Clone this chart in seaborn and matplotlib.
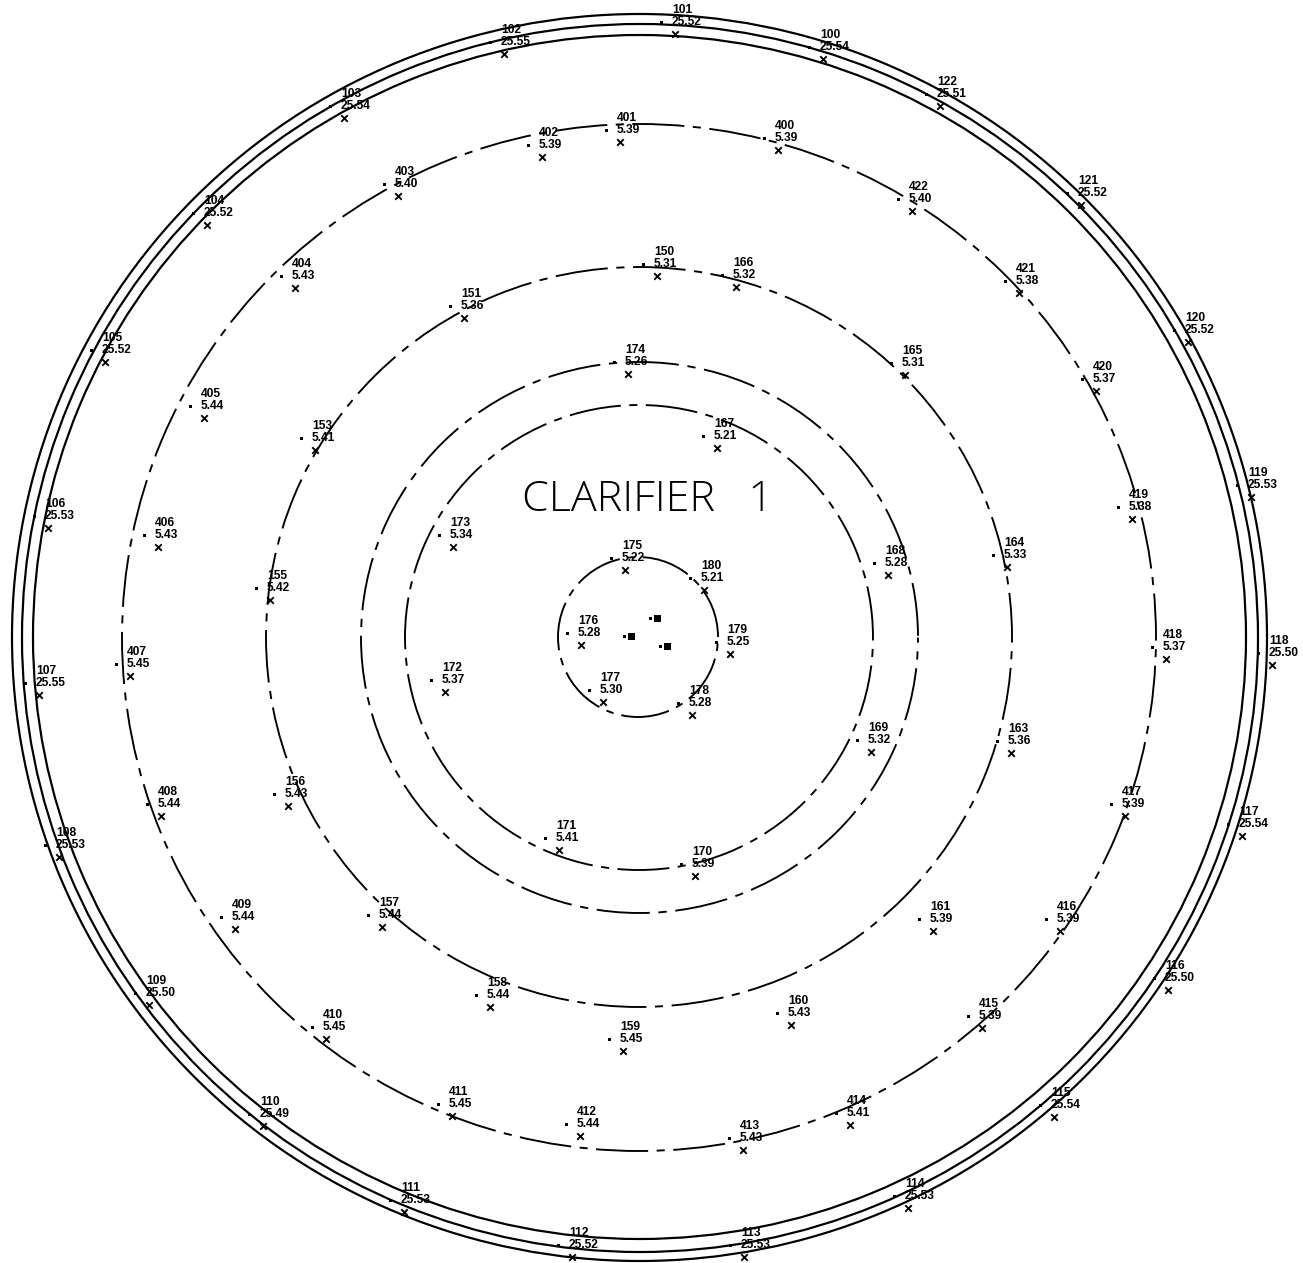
#!/usr/bin/env python3

import numpy as np
import matplotlib
matplotlib.use('Agg')
import matplotlib.pyplot as plt
from matplotlib.patches import Arc
import seaborn as sns
import pandas as pd

# survey shots, positions are pixels of the X mark on the sheet
ids = [100, 101, 102, 103, 104, 105, 106, 107, 108, 109, 110, 111, 112, 113, 114, 115, 116, 117, 118, 119, 120, 121, 122,
       400, 401, 402, 403, 404, 405, 406, 407, 408, 409, 410, 411, 412, 413, 414, 415, 416, 417, 418, 419, 420, 421, 422,
       150, 151, 153, 155, 156, 157, 158, 159, 160, 161, 163, 164, 165, 166,
       167, 168, 169, 170, 171, 172, 173, 174,
       175, 176, 177, 178, 179, 180]
values = [25.54, 25.52, 25.55, 25.54, 25.52, 25.52, 25.53, 25.55, 25.53, 25.50, 25.49, 25.53, 25.52, 25.53, 25.53, 25.54, 25.50, 25.54, 25.50, 25.53, 25.52, 25.52, 25.51,
          5.39, 5.39, 5.39, 5.40, 5.43, 5.44, 5.43, 5.45, 5.44, 5.44, 5.45, 5.45, 5.44, 5.43, 5.41, 5.39, 5.39, 5.39, 5.37, 5.38, 5.37, 5.38, 5.40,
          5.31, 5.36, 5.41, 5.42, 5.43, 5.44, 5.44, 5.45, 5.43, 5.39, 5.36, 5.33, 5.31, 5.32,
          5.21, 5.28, 5.32, 5.39, 5.41, 5.37, 5.34, 5.26,
          5.22, 5.28, 5.30, 5.28, 5.25, 5.21]
mark_x = [823, 675, 504, 344, 207, 105, 48, 39, 59, 149, 263, 404, 572, 744, 908, 1054, 1168, 1242, 1272, 1251, 1188, 1081, 940,
          778, 620, 542, 398, 295, 204, 158, 130, 161, 235, 326, 452, 580, 743, 850, 982, 1060, 1125, 1166, 1132, 1096, 1019, 912,
          657, 464, 315, 270, 288, 382, 490, 623, 791, 933, 1011, 1007, 905, 736,
          717, 888, 871, 695, 559, 445, 453, 628,
          625, 581, 603, 692, 730, 704]
mark_y = [59, 34, 54, 118, 225, 362, 528, 695, 857, 1005, 1126, 1212, 1257, 1257, 1208, 1117, 990, 836, 665, 497, 342, 205, 106,
          150, 142, 157, 196, 288, 418, 547, 676, 816, 929, 1039, 1116, 1136, 1150, 1125, 1028, 931, 816, 659, 519, 391, 293, 211,
          276, 318, 450, 600, 806, 927, 1007, 1051, 1025, 931, 753, 567, 375, 287,
          448, 575, 752, 876, 850, 692, 547, 374,
          570, 645, 702, 715, 654, 590]

# three shots in the middle, labels overprint into blobs
centre_x = [650, 624, 660]
centre_y = [618, 636, 646]

# tank walls (solid)
wall_cx = [639.5, 640, 639.5]
wall_cy = [637.5, 638, 637]
wall_rx = [627.5, 618, 606.5]
wall_ry = [623.5, 614, 602]

# dashed rings, the sheet is squashed a bit vertically
ring_cx = [639, 639, 639.5, 639, 638]
ring_cy = [637.5, 637, 637.5, 637.5, 637]
ring_rx = [517, 373, 278.5, 234, 80]
ring_ry = [513.5, 370, 275.5, 232.5, 80]
ring_period = [77.2, 77.9, 78.8, 77, 72]
ring_offset = [49, 47, 48, 49, 50]

sns.set_theme(style='white')
plt.rcParams['font.family'] = ['Liberation Sans', 'DejaVu Sans']
plt.rcParams['lines.scale_dashes'] = False


def main():
    df = pd.DataFrame({'id': ids, 'value': values, 'x': mark_x, 'y': mark_y})
    df['dot_x'] = df['x'] - 14
    df['dot_y'] = df['y'] - 12

    # dpi 72 so one point is one pixel
    fig = plt.figure(figsize=(1303 / 72, 1263 / 72), dpi=72)
    ax = fig.add_axes([0, 0, 1, 1])

    for cx, cy, rx, ry in zip(wall_cx, wall_cy, wall_rx, wall_ry):
        ax.add_patch(Arc((cx, cy), 2 * rx, 2 * ry, color='black', lw=2.2))
    for cx, cy, rx, ry, p, off in zip(ring_cx, ring_cy, ring_rx, ring_ry, ring_period, ring_offset):
        # long dash, gap, short dash, gap
        dashes = (0.675 * p, 0.11 * p, 0.105 * p, 0.11 * p)
        ax.add_patch(Arc((cx, cy), 2 * rx, 2 * ry, color='black', lw=1.9,
                         linestyle=(off, dashes)))

    sns.scatterplot(data=df, x='dot_x', y='dot_y', marker='s', s=9, color='black',
                    linewidth=0, ax=ax, legend=False)
    sns.scatterplot(data=df, x='x', y='y', marker='x', s=42, color='black',
                    linewidth=1.9, ax=ax, legend=False)
    sns.scatterplot(x=centre_x, y=centre_y, marker='s', s=9, color='black',
                    linewidth=0, ax=ax, legend=False)
    sns.scatterplot(x=np.array(centre_x) + 7, y=centre_y, marker='s', s=49, color='black',
                    linewidth=0, ax=ax, legend=False)

    for row in df.itertuples():
        ax.text(row.dot_x + 11, row.dot_y - 12, str(row.id), fontsize=12, weight='bold',
                va='center', ha='left', color='black')
        ax.text(row.dot_x + 11, row.dot_y, f'{row.value:.2f}', fontsize=12, weight='bold',
                va='center', ha='left', color='black')

    ax.text(522, 500, 'CLARIFIER   1', fontsize=43, color='black', va='center', ha='left',
            family='Open Sans', fontweight='light')

    ax.set_xlim(0, 1303)
    ax.set_ylim(1263, 0)
    ax.set_axis_off()
    fig.savefig('out.png', dpi=72, facecolor='white')
    plt.close()


if __name__ == '__main__':
    main()
